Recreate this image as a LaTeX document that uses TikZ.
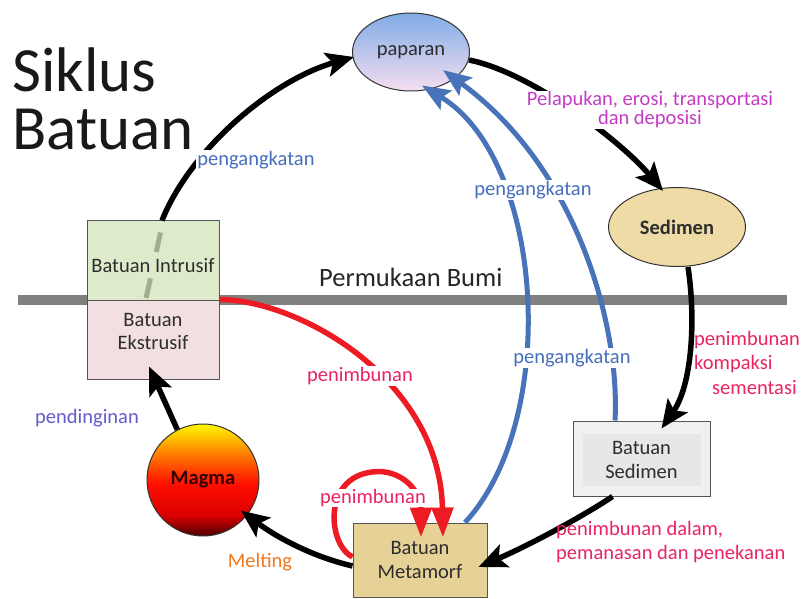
\documentclass[tikz,border=0pt]{standalone}
\usepackage{fontspec}
\setmainfont{Carlito}
\usetikzlibrary{arrows.meta,calc,shapes.geometric}
\definecolor{blueC}{RGB}{72,115,185}
\definecolor{redC}{RGB}{237,28,36}
\definecolor{pinkT}{RGB}{234,36,96}
\definecolor{magT}{RGB}{196,60,196}
\definecolor{blueT}{RGB}{70,110,190}
\definecolor{purpT}{RGB}{100,90,205}
\definecolor{orangeT}{RGB}{240,120,30}
\definecolor{surfC}{RGB}{128,128,128}
\definecolor{intrF}{RGB}{222,235,202}
\definecolor{ekstF}{RGB}{242,223,226}
\definecolor{metaF}{RGB}{230,210,150}
\definecolor{sedF}{RGB}{238,219,166}
\definecolor{bsedF}{RGB}{240,240,240}
\definecolor{bsedI}{RGB}{231,231,231}
\definecolor{boxL}{RGB}{85,85,85}
\definecolor{txtC}{RGB}{45,45,45}
\definecolor{dashC}{RGB}{160,176,140}
\definecolor{papTop}{RGB}{128,172,230}
\definecolor{papBot}{RGB}{246,222,240}
\pgfdeclareverticalshading{magmashade}{100bp}{color(0bp)=(black!80!red); color(25bp)=(black!70!red); color(34bp)=(red!85!black); color(48bp)=(red!90!orange); color(62bp)=(orange); color(75bp)=(yellow!95!orange); color(100bp)=(yellow!95!orange)}
\begin{document}
\begin{tikzpicture}[x=1pt,y=-1pt,
  lbl/.style={font=\fontsize{20.5}{23}\selectfont, inner sep=1pt, align=center},
  wlbl/.style={lbl, fill=white},
  rbox/.style={rectangle, draw=boxL, line width=1pt, inner sep=0pt, font=\fontsize{20.5}{24}\selectfont, text=txtC, align=center},
  ell/.style={ellipse, draw=black!80, line width=1pt, inner sep=0pt, font=\fontsize{20.5}{24}\selectfont, text=txtC},
  arrK/.style={draw=black, line width=5.5pt, -{Stealth[length=28pt,width=24pt,inset=6pt]}},
  arrB/.style={draw=blueC, line width=5pt, -{Stealth[length=28pt,width=22pt,inset=5pt]}},
  arrR/.style={draw=redC, line width=5.5pt, -{Triangle[length=30pt,width=21pt]}},
  surface/.style={draw=surfC, line width=10pt},
  dashI/.style={draw=dashC, line width=5pt, dash pattern=on 20pt off 27pt},
  titlef/.style={inner sep=0pt, font=\fontsize{63}{58}\selectfont, text=black!90}
]
\useasboundingbox (0,0) rectangle (804,599);

% title
\node[titlef, anchor=base west] (t1) at (12,92) {Siklus};
\node[titlef, anchor=base west] (t2) at (12,150) {Batuan};

% earth surface
\coordinate (surfL) at (18,300);
\coordinate (surfR) at (787,300);
\draw[surface] (surfL) -- (surfR);
\node[inner sep=0pt, font=\fontsize{26.5}{30}\selectfont, text=black!85, anchor=base west] (surfT) at (319,287) {Permukaan Bumi};

% nodes
\node[rbox, fill=intrF, minimum width=132pt, minimum height=79pt] (intr) at (153,260.5) {};
\node[rbox, fill=ekstF, minimum width=132pt, minimum height=79pt] (ekst) at (153,339.5) {};
\node[ell, top color=papTop, bottom color=papBot, minimum width=117pt, minimum height=78pt] (pap) at (411,52) {paparan};
\node[ell, fill=sedF, minimum width=137pt, minimum height=79pt, font=\bfseries\fontsize{20.5}{24}\selectfont] (sed) at (677,227) {Sedimen};
\node[circle, draw=black!80, line width=1pt, shading=magmashade, minimum size=112pt, inner sep=0pt, font=\bfseries\fontsize{20.5}{24}\selectfont, text=black!80!red] (magma) at (203,480) {Magma};
\node[rbox, fill=metaF, minimum width=134pt, minimum height=74pt] (meta) at (420,560) {Batuan\\Metamorf};
\node[rbox, fill=bsedF, minimum width=137pt, minimum height=75pt] (bsed) at (641.5,458.5) {};
\node[rectangle, fill=bsedI, minimum width=118pt, minimum height=52pt, inner sep=0pt] (bsedIn) at (641.5,460) {};
\node[rbox, draw=none, fill=none] (bsedT) at (641.5,460) {Batuan\\Sedimen};

% dashed continuation in intrusive box
\draw[dashI] ($(intr.north)+(7.5,12)$) -- ($(intr.south)+(-7,-2)$);
\node[lbl, text=txtC] (intrT) at (153,266) {Batuan Intrusif};
\node[lbl, text=txtC] (ekstT) at (153,331) {Batuan\\Ekstrusif};

% black arrows
\draw[arrK] ($(intr.north)+(9,0)$) .. controls (190,150) and (272,80) .. ($(pap.west)+(2,5)$);
\draw[arrK] ($(pap.east)+(-1,8)$) .. controls (530,72) and (620,140) .. ($(sed.north)+(-14,4)$);
\draw[arrK] ($(sed.south)+(11,0)$) .. controls (696,320) and (692,385) .. ($(bsed.north)+(20,8)$);
\draw[arrK] ($(bsed.south)+(-29,0)$) .. controls (585,515) and (530,545) .. ($(meta.east)+(-9,7)$);
\draw[arrK] ($(meta.west)+(0,6)$) .. controls (310,556) and (275,536) .. ($(magma.-39)+(-6,-5)$);
\draw[arrK] (magma.117) -- ($(ekst.south)+(-4,-13)$);

% blue arrows
\draw[arrB] ($(meta.north)+(45,0)$) .. controls (560,420) and (545,160) .. ($(pap.south)+(11,-6)$);
\draw[arrB] ($(bsed.north)+(-26.5,0)$) .. controls (620,330) and (580,170) .. ($(pap.center)+(32,18)$);

% red arrows
\draw[arrR] (ekst.north east) .. controls (300,300) and (440,380) .. ($(meta.north)+(23,15)$);
\coordinate (loopTop) at (372,472);
\draw[arrR] ($(meta.west)+(0,-3)$) .. controls (328,545) and (322,478) .. (loopTop) .. controls (402,468) and (421,492) .. ($(meta.north)+(1,15)$);

% labels
\node[wlbl, text=blueT] (lb1) at (256,160) {pengangkatan};
\node[wlbl, text=blueT] (lb2) at (533,190) {pengangkatan};
\node[wlbl, text=blueT] (lb3) at (572,358) {pengangkatan};
\node[wlbl, text=magT, font=\fontsize{20.5}{19}\selectfont] (lpel) at (650,110) {Pelapukan, erosi, transportasi\\dan deposisi};
\node[wlbl, text=pinkT] (lpen1) at (360,376) {penimbunan};
\node[wlbl, text=pinkT, inner sep=0pt] (lpen2) at (373,498) {penimbunan};
\node[lbl, text=pinkT, align=left, anchor=north west, font=\fontsize{20.5}{24.5}\selectfont] (lpen3) at (693,330) {penimbunan\\kompaksi\\\hspace*{18pt}sementasi};
\node[lbl, text=pinkT, align=left, anchor=west, font=\fontsize{20.5}{24}\selectfont] (lpen4) at (555,542) {penimbunan dalam,\\pemanasan dan penekanan};
\node[lbl, text=orangeT] (lmelt) at (260,562) {Melting};
\node[lbl, text=purpT] (lpend) at (87,418) {pendinginan};
\end{tikzpicture}
\end{document}
